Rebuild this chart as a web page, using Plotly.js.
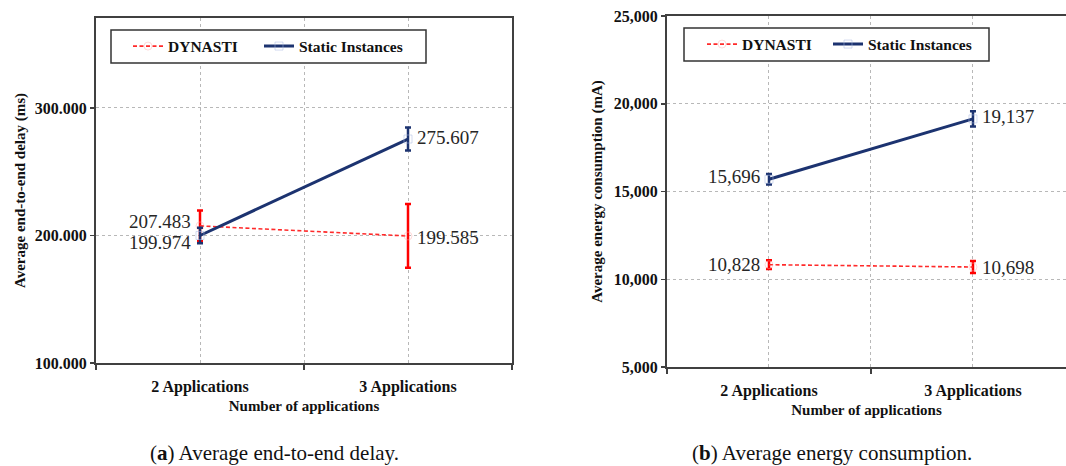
<!DOCTYPE html>
<html><head><meta charset="utf-8">
<script src="https://cdn.plot.ly/plotly-3.0.1.min.js"></script>
<style>html,body{margin:0;padding:0;background:#fff}#chart{width:1066px;height:466px}</style>
</head><body><div id="chart"></div>
<script>
const categories = ['2 Applications', '3 Applications'];
const seriesNames = ['DYNASTI', 'Static Instances'];
const delayDynasti = [207.483, 199.585];
const delayDynastiErr = [12, 25];
const delayStatic = [199.974, 275.607];
const delayStaticErr = [6, 9];
const energyDynasti = [10828, 10698];
const energyDynastiErr = [250, 340];
const energyStatic = [15696, 19137];
const energyStaticErr = [300, 430];
const delayTicks = [100, 200, 300];
const energyTicks = [5000, 10000, 15000, 20000, 25000];
const captions = ['(<b>a</b>) Average end-to-end delay.', '(<b>b</b>) Average energy consumption.'];

const xIdx = categories.map((c, i) => i);
const SERIF = 'Liberation Serif';
const RED = '#ff0000';
const NAVY = '#1c3370';
const AXC = '#404040';
const GRID = '#b8b8b8';
const B = s => '<b>' + s + '</b>';

function dyn(y, err, xa, ya, leg) {
  return {
    x: xIdx, y: y, xaxis: xa, yaxis: ya, legend: leg, showlegend: true,
    name: B(seriesNames[0]), type: 'scatter', mode: 'lines+markers',
    line: {color: '#ff2a2a', width: 1.6, dash: '4px,2.5px'},
    marker: {symbol: 'circle-open', size: 8, color: 'rgba(255,170,170,0.45)', line: {width: 1}},
    error_y: {type: 'data', array: err, visible: true, color: RED, thickness: 2.5, width: 3},
    hoverinfo: 'skip'
  };
}
function stat(y, err, xa, ya, leg) {
  return {
    x: xIdx, y: y, xaxis: xa, yaxis: ya, legend: leg, showlegend: true,
    name: B(seriesNames[1]), type: 'scatter', mode: 'lines+markers',
    line: {color: NAVY, width: 3},
    marker: {symbol: 'square-open', size: 8, color: 'rgba(170,185,225,0.5)', line: {width: 1}},
    error_y: {type: 'data', array: err, visible: true, color: NAVY, thickness: 2.5, width: 3},
    hoverinfo: 'skip'
  };
}

const data = [
  dyn(delayDynasti, delayDynastiErr, 'x', 'y', 'legend'),
  stat(delayStatic, delayStaticErr, 'x', 'y', 'legend2'),
  dyn(energyDynasti, energyDynastiErr, 'x2', 'y2', 'legend3'),
  stat(energyStatic, energyStaticErr, 'x2', 'y2', 'legend4')
];

const tickFont = {family: SERIF, size: 16, color: '#111'};
const titleFont = {family: SERIF, size: 15, color: '#111'};

function xAxis(domain, range, anchor) {
  return {
    domain: domain, range: range, anchor: anchor, type: 'linear',
    tickvals: xIdx, ticktext: categories.map(B), ticks: '',
    showgrid: true, gridcolor: GRID, griddash: 'dot', gridwidth: 1,
    minor: {tickvals: [-0.5, 0.5, 1.5], ticks: 'outside', ticklen: 5, tickwidth: 1.5, tickcolor: AXC,
            showgrid: true, gridcolor: GRID, griddash: 'dot', gridwidth: 1},
    showline: true, linecolor: AXC, linewidth: 2, mirror: true,
    zeroline: false, tickfont: tickFont, ticklabelstandoff: 8, automargin: false,
    title: {text: B('Number of applications'), font: titleFont, standoff: 5},
    fixedrange: true
  };
}
function yAxis(domain, range, anchor, tickvals, fmt, title, mirror, standoff) {
  return {
    domain: domain, range: range, anchor: anchor, tickvals: tickvals,
    ticktext: tickvals.map(v => B(fmt(v))),
    ticks: 'outside', ticklen: 4, tickwidth: 1.5, tickcolor: AXC,
    showgrid: true, gridcolor: GRID, griddash: 'dot', gridwidth: 1,
    showline: true, linecolor: AXC, linewidth: 2, mirror: mirror,
    zeroline: false, tickfont: tickFont, automargin: false,
    title: {text: B(title), font: titleFont, standoff: standoff},
    fixedrange: true
  };
}

const f3 = v => v.toFixed(3);
const fc = v => v.toLocaleString('en-US');

const labFont = {family: SERIF, size: 19, color: '#262626'};
function labels(xa, ya, vals, fmt, sides, shifts) {
  return vals.map((v, i) => ({
    xref: xa, yref: ya, x: xIdx[i], y: v, text: fmt(v), showarrow: false,
    xanchor: sides[i] < 0 ? 'right' : 'left', xshift: sides[i] * 7, yshift: shifts[i], font: labFont
  }));
}

const capFont = {family: SERIF, size: 21, color: '#111'};
const annotations = [].concat(
  labels('x', 'y', delayDynasti, f3, [-1, 1], [4, -2]),
  labels('x', 'y', delayStatic, f3, [-1, 1], [-7, 2]),
  labels('x2', 'y2', energyDynasti, fc, [-1, 1], [0, 0]),
  labels('x2', 'y2', energyStatic, fc, [-1, 1], [3, 2]),
  [
    {xref: 'paper', yref: 'paper', x: 274 / 1066, y: 1 - 453 / 466, text: captions[0], showarrow: false,
     xanchor: 'center', yanchor: 'middle', font: capFont},
    {xref: 'paper', yref: 'paper', x: 832 / 1066, y: 1 - 453 / 466, text: captions[1], showarrow: false,
     xanchor: 'center', yanchor: 'middle', font: capFont}
  ]
);

const legFont = {family: SERIF, size: 15.5, color: '#111'};
function leg(xpx, ypx) {
  return {x: xpx / 1066, y: 1 - ypx / 466, xanchor: 'left', yanchor: 'middle', orientation: 'h',
          bgcolor: 'rgba(0,0,0,0)', borderwidth: 0, font: legFont, itemclick: false, itemdoubleclick: false};
}

const layout = {
  width: 1066, height: 466,
  margin: {l: 0, r: 0, t: 0, b: 0, autoexpand: false},
  paper_bgcolor: '#fff', plot_bgcolor: '#fff',
  xaxis: xAxis([96 / 1066, 512 / 1066], [-0.5, 1.5], 'y'),
  yaxis: yAxis([1 - 363 / 466, 1 - 18 / 466], [100, 370.5], 'x', delayTicks, f3,
               'Average end-to-end delay (ms)', true, 6),
  xaxis2: xAxis([667 / 1066, 1], [-0.5, 1.456], 'y2'),
  yaxis2: yAxis([1 - 367 / 466, 1 - 16 / 466], [5000, 25000], 'x2', energyTicks, fc,
                'Average energy consumption (mA)', false, 8),
  showlegend: true,
  legend: leg(128, 46.5),
  legend2: leg(259, 46.5),
  legend3: leg(702, 44.5),
  legend4: leg(828, 44.5),
  shapes: [
    {type: 'rect', xref: 'paper', yref: 'paper', x0: 111 / 1066, x1: 426 / 1066, y0: 1 - 63 / 466, y1: 1 - 30 / 466,
     line: {color: '#333', width: 1.5}, fillcolor: '#fff', layer: 'above'},
    {type: 'rect', xref: 'paper', yref: 'paper', x0: 684 / 1066, x1: 989 / 1066, y0: 1 - 61 / 466, y1: 1 - 28 / 466,
     line: {color: '#333', width: 1.5}, fillcolor: '#fff', layer: 'above'}
  ],
  annotations: annotations
};

Plotly.newPlot('chart', data, layout, {displayModeBar: false, staticPlot: true});
</script>
</body></html>
